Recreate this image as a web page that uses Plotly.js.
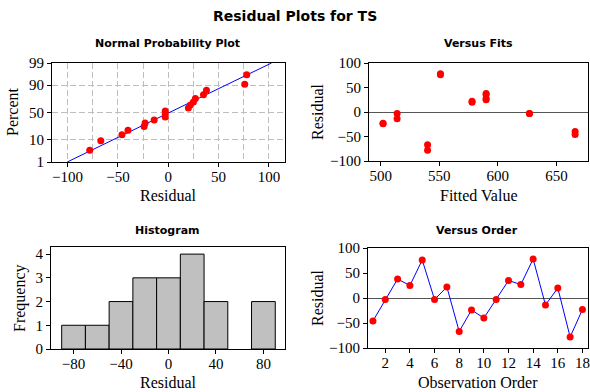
<!DOCTYPE html>
<html>
<head>
<meta charset="utf-8">
<script src="https://cdn.plot.ly/plotly-3.0.1.min.js"></script>
<style>html,body{margin:0;padding:0;background:#fff;}#chart{width:590px;height:392px;}</style>
</head>
<body>
<div id="chart"></div>
<script>
// Data
const observation = [1,2,3,4,5,6,7,8,9,10,11,12,13,14,15,16,17,18];
const residuals = [-46,-3,38,25,76,-3,22,-67,-24,-40,-3,35,27,78,-14,20,-78,-23];
const fittedValues = [666,627,590,590,551,514,578,540,502,666,627,590,590,551,514,578,540,502];
const percentTicks = [1,10,50,90,99];

// Inverse standard normal CDF (Acklam) for the probability-scale axis
function normInv(p){
  const a=[-3.969683028665376e+01,2.209460984245205e+02,-2.759285104469687e+02,1.383577518672690e+02,-3.066479806614716e+01,2.506628277459239e+00];
  const b=[-5.447609879822406e+01,1.615858368580409e+02,-1.556989798598866e+02,6.680131188771972e+01,-1.328068155288572e+01];
  const c=[-7.784894002430293e-03,-3.223964580411365e-01,-2.400758277161838e+00,-2.549732539343734e+00,4.374664141464968e+00,2.938163982698783e+00];
  const d=[7.784695709041462e-03,3.224671290700398e-01,2.445134137142996e+00,3.754408661907416e+00];
  const pl=0.02425, ph=1-pl; let q,r;
  if(p<pl){q=Math.sqrt(-2*Math.log(p));return (((((c[0]*q+c[1])*q+c[2])*q+c[3])*q+c[4])*q+c[5])/((((d[0]*q+d[1])*q+d[2])*q+d[3])*q+1);}
  if(p<=ph){q=p-0.5;r=q*q;return (((((a[0]*r+a[1])*r+a[2])*r+a[3])*r+a[4])*r+a[5])*q/(((((b[0]*r+b[1])*r+b[2])*r+b[3])*r+b[4])*r+1);}
  q=Math.sqrt(-2*Math.log(1-p));return -(((((c[0]*q+c[1])*q+c[2])*q+c[3])*q+c[4])*q+c[5])/((((d[0]*q+d[1])*q+d[2])*q+d[3])*q+1);
}

const n = residuals.length;
const sorted = residuals.slice().sort((a,b)=>a-b);
const probZ = sorted.map((v,i)=>normInv((i+1-0.3)/(n+0.4)));
const mean = residuals.reduce((s,v)=>s+v,0)/n;
const sd = Math.sqrt(residuals.reduce((s,v)=>s+(v-mean)*(v-mean),0)/(n-1));
const zLo = normInv(0.01), zHi = normInv(0.99);
const lineZ = [zLo, zHi];
const lineX = lineZ.map(z=>mean+sd*z);

const RED='#ff0000', BLUE='#0000ff', GRID='#bebebe';
const SERIF='Liberation Serif';
const tickFont={family:SERIF, size:15, color:'#000'};
const W=590,H=392;
const px=(a,b)=>[a/W,b/W];
const py=(top,bot)=>[1-bot/H,1-top/H];

const baseAxis = {showline:true, mirror:true, linecolor:'#000', linewidth:1, ticks:'outside', ticklen:4, tickcolor:'#000', tickfont:tickFont, zeroline:false, showgrid:false, fixedrange:true};
const xExtra = {ticklabelstandoff:-3};

const traces = [
  {type:'scatter', mode:'lines', x:lineX, y:lineZ, xaxis:'x', yaxis:'y', line:{color:BLUE,width:1}, hoverinfo:'skip'},
  {type:'scatter', mode:'markers', x:sorted, y:probZ, xaxis:'x', yaxis:'y', marker:{color:RED,size:7}},
  {type:'scatter', mode:'markers', x:fittedValues, y:residuals, xaxis:'x2', yaxis:'y2', marker:{color:RED,size:7}},
  {type:'histogram', x:residuals, xbins:{start:-90,end:90,size:20}, xaxis:'x3', yaxis:'y3', marker:{color:'#c0c0c0', line:{color:'#000',width:1}}},
  {type:'scatter', mode:'lines+markers', x:observation, y:residuals, xaxis:'x4', yaxis:'y4', line:{color:BLUE,width:1}, marker:{color:RED,size:7}}
];

const titleFont={family:'DejaVu Sans', size:11, color:'#000'};
const axFont={family:SERIF, size:16, color:'#000'};
function ann(text,x,y,font,angle){return {text:text,x:x/W,y:1-y/H,xref:'paper',yref:'paper',showarrow:false,xanchor:'center',yanchor:'middle',font:font,textangle:angle||0};}

const GD = '6px,3px';
const layout = {
  width:W, height:H, margin:{l:0,r:0,t:0,b:0}, showlegend:false, paper_bgcolor:'#fff', plot_bgcolor:'#fff', bargap:0,
  font:{family:SERIF, size:14, color:'#000'},
  xaxis: Object.assign({}, baseAxis, xExtra, {domain:px(52,285), range:[-115.5,116], anchor:'y', tick0:0, dtick:50, showgrid:true, gridcolor:GRID, griddash:GD, minor:{tick0:0, dtick:25, showgrid:true, gridcolor:GRID, griddash:GD, ticks:''}}),
  yaxis: Object.assign({}, baseAxis, {domain:py(63,162), range:[zLo,zHi], anchor:'x', tickmode:'array', tickvals:percentTicks.map(p=>normInv(p/100)), ticktext:percentTicks.map(String), showgrid:true, gridcolor:GRID, griddash:GD}),
  xaxis2: Object.assign({}, baseAxis, xExtra, {domain:px(369,588), range:[490,677], anchor:'y2', tick0:500, dtick:50}),
  yaxis2: Object.assign({}, baseAxis, {domain:py(63,161), range:[-100,100], anchor:'x2', tick0:0, dtick:50, zeroline:true, zerolinecolor:'#555', zerolinewidth:1}),
  xaxis3: Object.assign({}, baseAxis, xExtra, {domain:px(51,285), range:[-99,98.2], anchor:'y3', tick0:0, dtick:40}),
  yaxis3: Object.assign({}, baseAxis, {domain:py(247,349), range:[0,4.3], anchor:'x3', tick0:0, dtick:1}),
  xaxis4: Object.assign({}, baseAxis, xExtra, {domain:px(368,588), range:[0.6,18.45], anchor:'y4', tick0:2, dtick:2, ticklabeloverflow:'allow'}),
  yaxis4: Object.assign({}, baseAxis, {domain:py(248,348), range:[-100,100], anchor:'x4', tick0:0, dtick:50, zeroline:true, zerolinecolor:'#555', zerolinewidth:1}),
  annotations: [
    ann('<b>Residual Plots for TS</b>',295,16,{family:'DejaVu Sans', size:14, color:'#000'}),
    ann('<b>Normal Probability Plot</b>',167,43,titleFont),
    ann('<b>Versus Fits</b>',478,43,titleFont),
    ann('<b>Histogram</b>',167,230,titleFont),
    ann('<b>Versus Order</b>',477,230,titleFont),
    ann('Residual',168,195,axFont),
    ann('Percent',12,112,axFont,-90),
    ann('Fitted Value',478,195,axFont),
    ann('Residual',317,112,axFont,-90),
    ann('Residual',168,382,axFont),
    ann('Frequency',20,298,axFont,-90),
    ann('Observation Order',478,382,axFont),
    ann('Residual',317,298,axFont,-90)
  ]
};

Plotly.newPlot('chart', traces, layout, {displayModeBar:false, staticPlot:true});
</script>
</body>
</html>
